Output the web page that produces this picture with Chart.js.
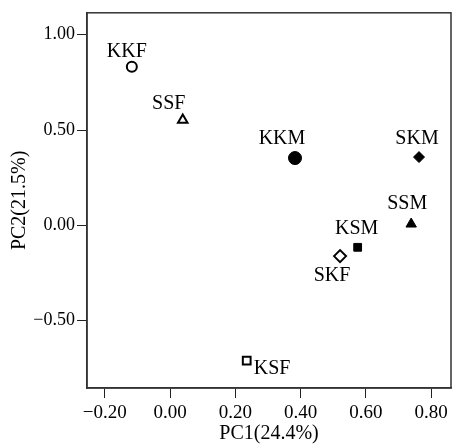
<!DOCTYPE html>
<html lang="en">
<head>
    <meta charset="UTF-8">
    <title>PCA scores</title>
    <style>
        html, body { margin: 0; padding: 0; background: #fff; }
        canvas { display: block; }
    </style>
</head>
<body>
    <canvas id="pca-chart" width="459" height="446"></canvas>
    <script src="https://cdn.jsdelivr.net/npm/chart.js"></script>
    <script>
        // sample groups and their scores on the first two components
        const groups = ['KKF', 'SSF', 'KKM', 'SKM', 'SSM', 'KSM', 'SKF', 'KSF'];
        const pc1 = [-0.117, 0.039, 0.383, 0.763, 0.739, 0.575, 0.521, 0.235];
        const pc2 = [0.832, 0.553, 0.353, 0.358, 0.007, -0.115, -0.161, -0.709];

        const xTicks = [-0.2, 0.0, 0.2, 0.4, 0.6, 0.8];
        const yTicks = [-0.5, 0.0, 0.5, 1.0];

        // marker look for each group
        const markers = {
            KKF: { shape: 'circle', r: 5, filled: false },
            SSF: { shape: 'triangle', r: 5.5, filled: false },
            KKM: { shape: 'circle', r: 6.5, filled: true },
            SKM: { shape: 'rectRot', r: 5.5, filled: true },
            SSM: { shape: 'triangle', r: 6, filled: true },
            KSM: { shape: 'rect', r: 5.5, filled: true },
            SKF: { shape: 'rectRot', r: 6, filled: false },
            KSF: { shape: 'rect', r: 5.5, filled: false }
        };

        // where each label sits relative to its point (baseline, px)
        const labelPos = {
            KKF: { dx: -5, dy: -10, align: 'center' },
            SSF: { dx: -14, dy: -11, align: 'center' },
            KKM: { dx: -13, dy: -14, align: 'center' },
            SKM: { dx: -2, dy: -13, align: 'center' },
            SSM: { dx: -4, dy: -15, align: 'center' },
            KSM: { dx: -1, dy: -13, align: 'center' },
            SKF: { dx: -8, dy: 25, align: 'center' },
            KSF: { dx: 7, dy: 13, align: 'left' }
        };

        const serif = "'Liberation Serif', 'DejaVu Serif', serif";

        const datasets = groups.map((name, i) => {
            const m = markers[name];
            return {
                label: name,
                data: [{ x: pc1[i], y: pc2[i] }],
                pointStyle: m.shape,
                pointRadius: m.r,
                pointBorderWidth: m.filled ? 1 : 2,
                pointBackgroundColor: m.filled ? '#000' : '#fff',
                pointBorderColor: '#000'
            };
        });

        // point names next to the markers
        const pointLabels = {
            id: 'pointLabels',
            afterDatasetsDraw(chart) {
                const ctx = chart.ctx;
                const xs = chart.scales.x, ys = chart.scales.y;
                ctx.save();
                ctx.fillStyle = '#000';
                ctx.font = '20px ' + serif;
                ctx.textBaseline = 'alphabetic';
                groups.forEach((name, i) => {
                    const p = labelPos[name];
                    ctx.textAlign = p.align;
                    ctx.fillText(name, xs.getPixelForValue(pc1[i]) + p.dx, ys.getPixelForValue(pc2[i]) + p.dy);
                });
                ctx.restore();
            }
        };

        // closed box round the plot
        const frame = {
            id: 'frame',
            afterDraw(chart) {
                const a = chart.chartArea;
                const ctx = chart.ctx;
                ctx.save();
                ctx.strokeStyle = '#333';
                ctx.lineWidth = 1.5;
                ctx.strokeRect(a.left, a.top, a.right - a.left, a.bottom - a.top);
                ctx.restore();
            }
        };

        function fmt(v) {
            const s = Math.abs(v).toFixed(2);
            return v < -1e-9 ? '\u2212' + s : s;
        }

        new Chart(document.getElementById('pca-chart'), {
            type: 'scatter',
            data: { datasets },
            options: {
                responsive: false,
                animation: false,
                layout: { padding: { left: 0, right: 8, top: 5, bottom: 0 } },
                plugins: { legend: { display: false }, tooltip: { enabled: false } },
                scales: {
                    x: {
                        min: -0.2544,
                        max: 0.861,
                        afterBuildTicks: s => { s.ticks = xTicks.map(v => ({ value: v })); },
                        afterFit: s => { s.height = 58; },
                        grid: { display: true, drawOnChartArea: false, drawTicks: true, tickLength: 10, color: '#222' },
                        border: { display: true, color: '#333', width: 1.5 },
                        ticks: { padding: 4, color: '#000', font: { family: serif, size: 19 }, callback: v => fmt(v), maxRotation: 0 },
                        title: { display: true, text: 'PC1(24.4%)', color: '#000', font: { family: serif, size: 20 }, padding: { top: 0, bottom: 0 } }
                    },
                    y: {
                        min: -0.8526,
                        max: 1.1145,
                        afterBuildTicks: s => { s.ticks = yTicks.map(v => ({ value: v })); },
                        afterFit: s => { s.width = 87; },
                        grid: { display: true, drawOnChartArea: false, drawTicks: true, tickLength: 10, color: '#222' },
                        border: { display: true, color: '#333', width: 1.5 },
                        ticks: { padding: 2, color: '#000', font: { family: serif, size: 18 }, callback: v => fmt(v) },
                        title: { display: true, text: 'PC2(21.5%)', color: '#000', font: { family: serif, size: 20 }, padding: { top: 8, bottom: 0 } }
                    }
                }
            },
            plugins: [pointLabels, frame]
        });
    </script>
</body>
</html>
